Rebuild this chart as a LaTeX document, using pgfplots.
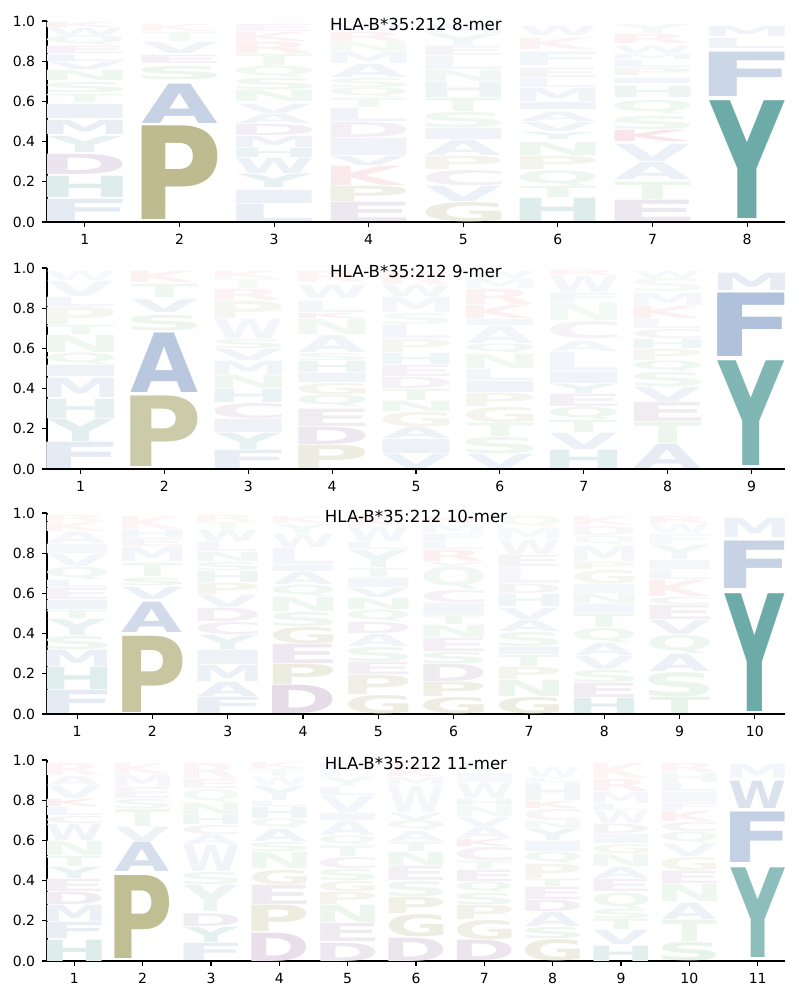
\documentclass[border=0pt]{standalone}
\usepackage{pgfplots}
\pgfplotsset{compat=1.18}
\usepackage{pgfplotstable}
\usepackage{graphicx}
\usepackage{fontspec}
\setmainfont{DejaVu Sans}

\definecolor{aaB}{RGB}{70,110,170}
\definecolor{aaT}{RGB}{20,120,115}
\definecolor{aaO}{RGB}{128,125,40}
\definecolor{aaP}{RGB}{130,80,140}
\definecolor{aaG}{RGB}{60,160,80}
\definecolor{aaR}{RGB}{210,40,60}
\def\aacolA{aaB}\def\aacolV{aaB}\def\aacolL{aaB}\def\aacolI{aaB}\def\aacolM{aaB}\def\aacolF{aaB}\def\aacolW{aaB}
\def\aacolY{aaT}\def\aacolH{aaT}
\def\aacolP{aaO}\def\aacolG{aaO}
\def\aacolD{aaP}\def\aacolE{aaP}\def\aacolC{aaP}
\def\aacolK{aaR}\def\aacolR{aaR}
\def\aacolS{aaG}\def\aacolT{aaG}\def\aacolN{aaG}\def\aacolQ{aaG}

\newdimen\logoH \newdimen\logoL \newdimen\logoR \newdimen\logoT \newdimen\logoB
\newsavebox\logobox
\def\logoW{30pt}
\newcommand\logoglyph[1]{%
  \bfseries
  \logoL=\XeTeXglyphbounds1 \XeTeXcharglyph`#1\relax
  \logoR=\XeTeXglyphbounds3 \XeTeXcharglyph`#1\relax
  \logoT=\XeTeXglyphbounds2 \XeTeXcharglyph`#1\relax
  \logoB=\XeTeXglyphbounds4 \XeTeXcharglyph`#1\relax
  \ifdim\logoB<0pt \logoB=0pt\fi
  \sbox\logobox{\kern-\logoL #1\kern-\logoR}%
  \ht\logobox=\logoT \dp\logobox=\logoB
  \resizebox*{\logoW}{\logoH}{\usebox\logobox}%
}
\pgfdeclareplotmark{emptymark}{}

\pgfplotsset{
  logo/.style={
    scale only axis, width=369pt, height=100.5pt,
    xmin=0.6, xmax=#1.4, ymin=0, ymax=1,
    axis on top,
    axis x line*=bottom, axis y line*=left,
    axis line style={-, line width=0.55pt},
    xtick={1,...,#1},
    ytick={0,0.2,0.4,0.6,0.8,1},
    yticklabel style={/pgf/number format/.cd, fixed, fixed zerofill, precision=1},
    tick align=outside, major tick length=2.4pt,
    tick style={line width=0.55pt, black},
    ticklabel style={font=\fontsize{7}{8}\selectfont},
    /pgf/number format/assume math mode=true,
    clip=false,
    title style={at={(0.5,0.925)}, anchor=center, font=\fontsize{8.3}{10}\selectfont},
  },
  letters/.style={
    scatter, only marks, mark=emptymark,
    point meta=explicit symbolic,
    visualization depends on={\thisrow{t} \as \inten},
    visualization depends on={100.5*(\thisrow{y1}-\thisrow{y0})-0.4 \as \hgt},
    scatter/@pre marker code/.code={%
      \logoH=\hgt pt
      \pgfmathtruncatemacro\intenI{\inten}%
      \edef\letter{\pgfplotspointmeta}%
      \edef\mycol{\csname aacol\letter\endcsname!\intenI!white}%
      \node[inner sep=0pt, outer sep=0pt, anchor=south, text=\mycol] at (0pt,0pt) {\expandafter\logoglyph\expandafter{\letter}};
    },
    scatter/@post marker code/.code={},
  },
}

\pgfplotstableread{
x y0 y1 L t
1 0.000 0.115 F 14
1 0.120 0.230 H 14
1 0.235 0.340 D 16
1 0.345 0.430 Y 10
1 0.435 0.510 M 12
1 0.515 0.590 I 10
1 0.595 0.640 T 8
1 0.645 0.700 S 8
1 0.705 0.760 N 8
1 0.760 0.800 V 8
1 0.800 0.840 L 8
1 0.840 0.880 E 8
1 0.880 0.930 Q 7
1 0.930 0.970 W 7
1 0.970 1.000 K 6
2 0.010 0.480 P 52
2 0.490 0.690 A 30
2 0.710 0.780 S 10
2 0.790 0.835 E 9
2 0.840 0.900 V 8
2 0.900 0.950 T 6
2 0.950 0.990 K 5
3 0.000 0.090 L 12
3 0.090 0.160 I 10
3 0.170 0.240 Y 10
3 0.240 0.320 W 10
3 0.320 0.370 H 9
3 0.370 0.430 M 9
3 0.430 0.490 D 10
3 0.490 0.540 A 8
3 0.540 0.590 V 8
3 0.600 0.660 N 8
3 0.660 0.720 S 8
3 0.720 0.780 Q 7
3 0.780 0.840 T 7
3 0.840 0.900 R 7
3 0.900 0.950 K 6
3 0.950 0.990 E 6
4 0.000 0.100 E 14
4 0.100 0.180 P 12
4 0.180 0.280 K 10
4 0.280 0.330 V 9
4 0.330 0.420 I 8
4 0.420 0.500 D 9
4 0.500 0.570 L 8
4 0.570 0.620 T 7
4 0.620 0.670 Q 7
4 0.670 0.720 S 7
4 0.720 0.790 A 8
4 0.790 0.850 M 7
4 0.850 0.900 N 6
4 0.900 0.950 R 6
4 0.950 0.990 W 5
5 0.000 0.100 G 14
5 0.100 0.180 V 10
5 0.180 0.260 C 9
5 0.260 0.330 P 9
5 0.330 0.410 A 9
5 0.410 0.470 I 8
5 0.470 0.550 S 8
5 0.550 0.620 T 8
5 0.620 0.700 H 8
5 0.700 0.760 N 7
5 0.760 0.830 L 7
5 0.830 0.880 E 7
5 0.880 0.940 Y 6
5 0.940 0.990 M 6
6 0.000 0.120 H 14
6 0.120 0.180 T 9
6 0.180 0.260 Q 9
6 0.260 0.330 P 9
6 0.330 0.400 N 9
6 0.410 0.450 Y 8
6 0.450 0.500 V 8
6 0.500 0.550 A 8
6 0.560 0.600 I 8
6 0.600 0.670 M 8
6 0.670 0.720 L 7
6 0.720 0.770 E 7
6 0.780 0.850 F 7
6 0.860 0.920 K 6
6 0.930 0.980 W 6
7 0.000 0.110 E 14
7 0.110 0.200 T 10
7 0.210 0.300 A 10
7 0.300 0.390 V 10
7 0.400 0.460 K 12
7 0.460 0.530 S 8
7 0.540 0.610 Q 8
7 0.620 0.680 H 8
7 0.690 0.720 I 7
7 0.730 0.770 P 7
7 0.770 0.810 L 7
7 0.810 0.840 M 6
7 0.840 0.880 W 6
7 0.890 0.940 R 6
7 0.940 0.990 Y 5
8 0.015 0.605 Y 62
8 0.625 0.850 F 28
8 0.865 0.920 L 8
8 0.925 0.980 M 8
}\tabA

\pgfplotstableread{
x y0 y1 L t
1 0.000 0.135 F 14
1 0.135 0.250 Y 12
1 0.250 0.350 H 11
1 0.355 0.455 M 11
1 0.460 0.520 I 9
1 0.520 0.580 Q 8
1 0.580 0.670 N 8
1 0.670 0.720 T 7
1 0.720 0.810 P 7
1 0.810 0.860 L 7
1 0.860 0.940 V 7
1 0.940 0.990 W 5
2 0.010 0.365 P 40
2 0.380 0.680 A 38
2 0.690 0.770 S 10
2 0.780 0.850 V 9
2 0.855 0.925 T 8
2 0.930 0.990 K 6
3 0.000 0.095 F 12
3 0.095 0.180 Y 10
3 0.180 0.250 I 9
3 0.250 0.330 C 10
3 0.330 0.400 H 9
3 0.400 0.470 N 8
3 0.470 0.540 M 8
3 0.540 0.600 V 8
3 0.600 0.650 S 7
3 0.650 0.750 W 7
3 0.750 0.840 P 7
3 0.840 0.900 R 6
3 0.900 0.950 T 5
3 0.950 0.990 K 5
4 0.000 0.120 P 14
4 0.120 0.210 D 14
4 0.210 0.300 E 11
4 0.310 0.370 Q 9
4 0.370 0.430 G 9
4 0.430 0.480 I 8
4 0.480 0.540 H 8
4 0.540 0.580 S 7
4 0.580 0.670 A 8
4 0.670 0.750 N 7
4 0.750 0.780 K 8
4 0.780 0.840 L 7
4 0.850 0.920 W 6
4 0.930 0.990 R 5
5 0.000 0.075 V 10
5 0.075 0.150 I 9
5 0.150 0.210 A 9
5 0.210 0.285 G 9
5 0.285 0.340 N 8
5 0.340 0.400 T 8
5 0.400 0.460 D 8
5 0.460 0.520 E 8
5 0.520 0.580 H 7
5 0.580 0.650 P 7
5 0.650 0.720 L 7
5 0.720 0.780 S 6
5 0.780 0.860 M 6
5 0.860 0.920 W 6
5 0.920 0.990 R 5
6 0.000 0.075 V 10
6 0.075 0.160 S 9
6 0.160 0.230 T 9
6 0.230 0.310 G 9
6 0.310 0.380 P 8
6 0.380 0.440 I 8
6 0.440 0.500 L 7
6 0.500 0.575 N 7
6 0.575 0.625 Q 7
6 0.625 0.715 A 7
6 0.715 0.750 I 6
6 0.750 0.820 K 7
6 0.820 0.900 R 6
6 0.900 0.950 M 5
6 0.950 0.990 W 5
7 0.000 0.095 H 12
7 0.095 0.180 V 10
7 0.180 0.245 T 9
7 0.245 0.310 Q 9
7 0.310 0.375 E 9
7 0.375 0.425 Y 8
7 0.425 0.485 I 8
7 0.485 0.585 L 7
7 0.585 0.640 A 7
7 0.650 0.740 C 7
7 0.740 0.830 N 6
7 0.830 0.880 F 6
7 0.880 0.965 W 6
7 0.965 0.995 R 5
8 0.000 0.125 A 13
8 0.125 0.235 T 10
8 0.235 0.335 E 11
8 0.335 0.410 V 9
8 0.410 0.485 S 8
8 0.485 0.540 Q 8
8 0.540 0.600 P 7
8 0.600 0.650 H 7
8 0.650 0.700 C 7
8 0.700 0.750 L 6
8 0.750 0.815 K 7
8 0.815 0.880 M 6
8 0.880 0.950 S 5
8 0.950 0.990 W 5
9 0.015 0.540 Y 54
9 0.560 0.880 F 43
9 0.890 0.980 M 13
}\tabB

\pgfplotstableread{
x y0 y1 L t
1 0.000 0.120 F 14
1 0.120 0.235 H 13
1 0.235 0.320 M 11
1 0.320 0.390 S 9
1 0.390 0.475 Y 9
1 0.475 0.520 T 8
1 0.520 0.570 I 8
1 0.570 0.630 E 8
1 0.630 0.670 L 7
1 0.670 0.735 Q 7
1 0.735 0.800 V 7
1 0.800 0.850 I 6
1 0.850 0.910 A 6
1 0.910 0.960 K 5
1 0.960 0.995 R 5
2 0.007 0.390 P 44
2 0.405 0.560 A 25
2 0.570 0.635 V 10
2 0.640 0.680 S 9
2 0.685 0.755 T 8
2 0.760 0.835 M 7
2 0.835 0.880 E 6
2 0.880 0.920 H 6
2 0.920 0.990 K 5
3 0.000 0.085 F 12
3 0.085 0.160 A 11
3 0.160 0.245 M 10
3 0.245 0.320 I 9
3 0.320 0.395 Y 9
3 0.395 0.460 C 9
3 0.460 0.530 D 9
3 0.530 0.595 V 8
3 0.595 0.655 P 8
3 0.655 0.715 H 7
3 0.715 0.760 S 7
3 0.760 0.810 N 7
3 0.810 0.860 L 6
3 0.860 0.920 W 6
3 0.920 0.960 T 5
3 0.960 0.995 R 5
4 0.000 0.145 D 20
4 0.145 0.250 P 15
4 0.250 0.350 E 13
4 0.350 0.435 G 12
4 0.435 0.510 S 9
4 0.510 0.585 N 8
4 0.585 0.645 Q 8
4 0.645 0.710 A 8
4 0.710 0.745 I 7
4 0.745 0.830 L 7
4 0.830 0.900 W 6
4 0.900 0.950 Y 5
4 0.950 0.990 K 5
5 0.000 0.095 G 14
5 0.095 0.195 P 12
5 0.195 0.260 E 10
5 0.260 0.335 S 9
5 0.335 0.400 A 8
5 0.400 0.460 D 9
5 0.460 0.520 Q 8
5 0.520 0.580 N 8
5 0.580 0.630 V 8
5 0.630 0.680 I 7
5 0.680 0.730 T 7
5 0.730 0.820 Y 7
5 0.820 0.860 L 6
5 0.860 0.935 W 6
5 0.935 0.990 K 5
6 0.000 0.085 G 14
6 0.085 0.160 P 12
6 0.160 0.250 D 12
6 0.250 0.310 S 9
6 0.310 0.380 E 9
6 0.380 0.445 N 8
6 0.445 0.495 T 8
6 0.495 0.555 I 7
6 0.555 0.620 C 8
6 0.620 0.735 Q 7
6 0.735 0.760 V 6
6 0.760 0.820 R 7
6 0.820 0.860 L 6
6 0.860 0.900 F 6
6 0.900 0.950 M 5
6 0.950 0.990 K 5
7 0.000 0.085 G 14
7 0.085 0.170 N 10
7 0.170 0.235 P 9
7 0.235 0.295 T 9
7 0.295 0.335 I 8
7 0.335 0.410 S 8
7 0.410 0.470 A 8
7 0.470 0.530 V 8
7 0.535 0.600 H 7
7 0.600 0.650 D 7
7 0.650 0.735 L 6
7 0.735 0.795 E 7
7 0.795 0.870 W 6
7 0.870 0.930 M 5
7 0.930 0.990 Q 5
8 0.000 0.080 H 13
8 0.080 0.155 E 11
8 0.155 0.220 S 9
8 0.220 0.290 V 8
8 0.290 0.355 A 8
8 0.355 0.430 Q 8
8 0.430 0.500 T 8
8 0.500 0.550 I 7
8 0.550 0.600 N 7
8 0.600 0.650 I 6
8 0.650 0.720 G 7
8 0.720 0.760 P 6
8 0.760 0.840 M 6
8 0.840 0.890 Q 5
8 0.890 0.940 D 5
8 0.940 0.990 K 5
9 0.000 0.085 T 12
9 0.085 0.210 S 11
9 0.210 0.300 A 10
9 0.300 0.395 Q 9
9 0.395 0.470 V 9
9 0.470 0.545 E 9
9 0.545 0.585 C 7
9 0.585 0.670 K 7
9 0.670 0.720 L 6
9 0.720 0.770 I 6
9 0.770 0.845 Y 6
9 0.845 0.900 F 5
9 0.900 0.950 W 5
9 0.950 0.990 R 5
10 0.010 0.600 Y 62
10 0.625 0.865 F 30
10 0.880 0.980 M 10
}\tabC

\pgfplotstableread{
x y0 y1 L t
1 0.000 0.110 H 14
1 0.110 0.195 F 12
1 0.195 0.280 M 11
1 0.280 0.345 D 11
1 0.345 0.410 E 10
1 0.410 0.470 Y 9
1 0.470 0.525 T 8
1 0.525 0.600 N 8
1 0.600 0.685 W 8
1 0.685 0.725 C 7
1 0.725 0.770 L 7
1 0.770 0.810 K 8
1 0.810 0.875 V 7
1 0.875 0.925 A 6
1 0.925 0.990 R 5
2 0.013 0.430 P 50
2 0.445 0.595 A 22
2 0.595 0.670 V 9
2 0.670 0.760 T 8
2 0.760 0.810 S 7
2 0.810 0.870 E 6
2 0.870 0.930 M 6
2 0.930 0.990 K 5
3 0.000 0.090 F 12
3 0.090 0.170 Y 11
3 0.170 0.237 D 11
3 0.245 0.380 Y 8
3 0.380 0.445 S 8
3 0.445 0.580 W 8
3 0.580 0.630 A 7
3 0.630 0.680 C 7
3 0.680 0.730 H 7
3 0.730 0.790 N 7
3 0.790 0.860 Q 6
3 0.860 0.910 E 6
3 0.910 0.990 R 5
4 0.000 0.145 D 18
4 0.145 0.280 P 15
4 0.280 0.380 E 12
4 0.380 0.455 G 11
4 0.460 0.545 N 8
4 0.545 0.595 S 8
4 0.595 0.660 A 8
4 0.660 0.710 Q 7
4 0.710 0.770 H 7
4 0.770 0.800 L 6
4 0.800 0.875 Y 6
4 0.875 0.920 W 5
4 0.920 0.960 T 5
4 0.960 0.995 K 5
5 0.000 0.095 D 14
5 0.095 0.190 E 12
5 0.190 0.280 N 10
5 0.280 0.345 P 9
5 0.345 0.400 G 9
5 0.400 0.460 S 8
5 0.460 0.520 C 8
5 0.520 0.575 T 7
5 0.575 0.625 Q 7
5 0.625 0.700 A 7
5 0.700 0.740 I 6
5 0.740 0.825 V 7
5 0.825 0.870 L 6
5 0.870 0.920 Y 5
5 0.920 0.990 F 5
6 0.000 0.120 D 15
6 0.120 0.235 G 14
6 0.235 0.320 P 11
6 0.320 0.400 S 9
6 0.400 0.475 E 9
6 0.475 0.545 N 8
6 0.545 0.595 T 7
6 0.595 0.650 A 7
6 0.650 0.700 Q 7
6 0.700 0.740 V 6
6 0.740 0.875 W 6
6 0.875 0.920 M 5
6 0.920 0.960 K 5
6 0.960 0.995 R 5
7 0.000 0.105 D 15
7 0.105 0.205 G 12
7 0.205 0.280 P 10
7 0.280 0.340 S 9
7 0.340 0.395 Q 8
7 0.395 0.455 E 9
7 0.455 0.500 T 7
7 0.500 0.570 C 8
7 0.570 0.610 K 8
7 0.610 0.670 A 7
7 0.670 0.720 V 7
7 0.720 0.775 N 6
7 0.775 0.810 H 6
7 0.810 0.890 W 6
7 0.890 0.940 I 5
7 0.940 0.990 Y 5
8 0.000 0.110 G 14
8 0.110 0.170 S 10
8 0.170 0.245 A 9
8 0.245 0.305 D 10
8 0.305 0.370 E 9
8 0.370 0.410 T 8
8 0.410 0.485 P 8
8 0.485 0.545 Q 7
8 0.545 0.600 I 7
8 0.600 0.660 Y 7
8 0.660 0.700 N 6
8 0.700 0.760 C 6
8 0.760 0.800 K 7
8 0.800 0.890 H 6
8 0.890 0.915 L 5
8 0.915 0.970 W 5
9 0.000 0.080 H 12
9 0.080 0.155 V 10
9 0.155 0.210 T 9
9 0.210 0.260 S 8
9 0.260 0.345 Q 8
9 0.345 0.410 E 9
9 0.410 0.470 A 8
9 0.470 0.535 N 7
9 0.535 0.585 G 7
9 0.585 0.635 I 6
9 0.635 0.685 D 7
9 0.685 0.750 W 6
9 0.750 0.785 L 6
9 0.785 0.845 M 6
9 0.845 0.910 R 6
9 0.910 0.990 K 5
10 0.000 0.095 S 12
10 0.095 0.205 T 10
10 0.205 0.290 A 9
10 0.295 0.385 N 8
10 0.385 0.450 E 9
10 0.450 0.520 G 8
10 0.520 0.585 V 7
10 0.585 0.645 Q 7
10 0.645 0.695 C 7
10 0.695 0.750 K 7
10 0.750 0.790 F 6
10 0.790 0.845 I 6
10 0.845 0.890 L 6
10 0.890 0.940 H 5
10 0.940 0.990 R 5
11 0.015 0.465 Y 48
11 0.490 0.745 F 32
11 0.760 0.900 W 20
11 0.910 0.985 M 7
}\tabD

\begin{document}
\begin{tikzpicture}
\useasboundingbox (0,0) rectangle (400pt,500pt);
\def\logoW{37.85pt}
\begin{axis}[logo=8, at={(23.5pt,389pt)}, anchor=south west, title={HLA-B*35:212 8-mer}]
\addplot[letters] table[x=x, y=y0, meta=L] {\tabA};
\end{axis}
\def\logoW{33.55pt}
\begin{axis}[logo=9, at={(23.5pt,265.5pt)}, anchor=south west, title={HLA-B*35:212 9-mer}]
\addplot[letters] table[x=x, y=y0, meta=L] {\tabB};
\end{axis}
\def\logoW{30.12pt}
\begin{axis}[logo=10, at={(23.5pt,143pt)}, anchor=south west, title={HLA-B*35:212 10-mer}]
\addplot[letters] table[x=x, y=y0, meta=L] {\tabC};
\end{axis}
\def\logoW{27.33pt}
\begin{axis}[logo=11, at={(23.5pt,19.5pt)}, anchor=south west, title={HLA-B*35:212 11-mer}]
\addplot[letters] table[x=x, y=y0, meta=L] {\tabD};
\end{axis}
\end{tikzpicture}
\end{document}
